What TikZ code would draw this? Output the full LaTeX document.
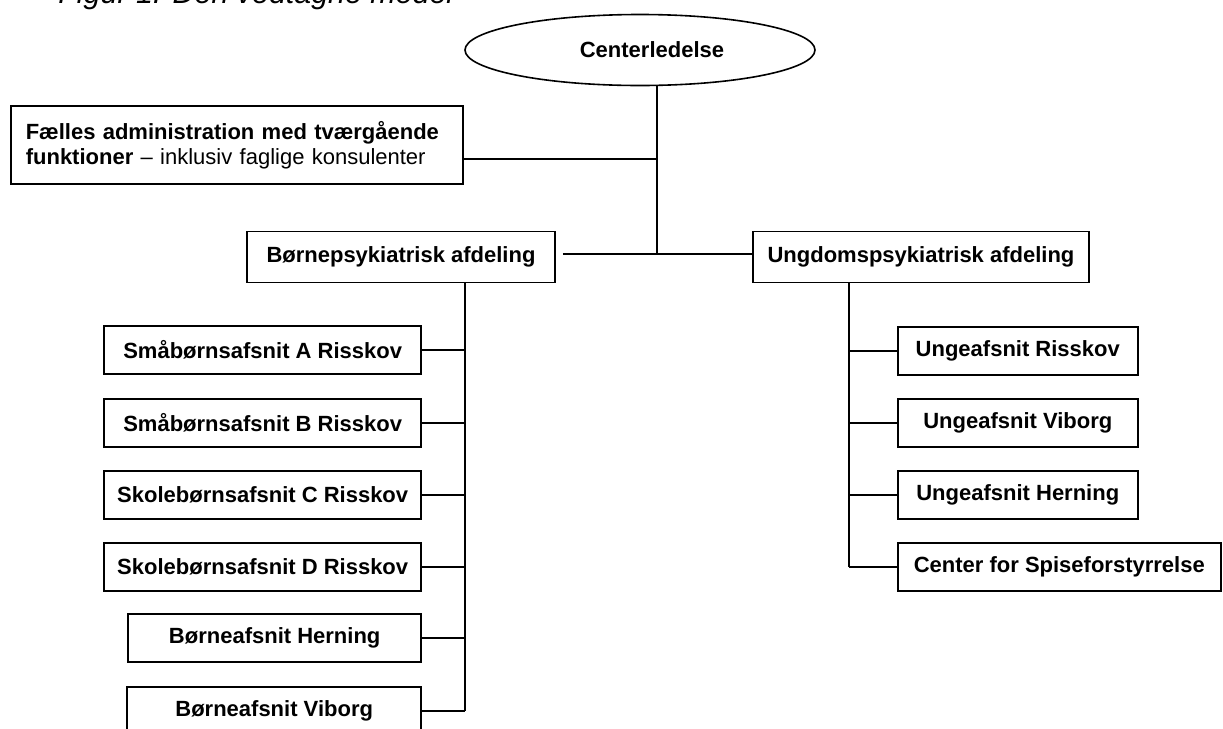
\documentclass[tikz,border=0pt]{standalone}
\usepackage{fontspec}
\setmainfont{Liberation Sans}
\usepackage{tikz}
\usetikzlibrary{shapes.geometric}

\tikzset{
  unit/.style={draw, line width=0.8pt, inner sep=0pt, minimum height=24pt,
    font=\bfseries\fontsize{11}{12.5}\selectfont},
  link/.style={line width=0.8pt}
}

\begin{document}
\begin{tikzpicture}[x=0.5pt, y=-0.5pt]
\useasboundingbox (0,0) rectangle (1223,729);
\clip (0,0) rectangle (1223,729);
% Caption, cut off at the top of the page
\node[anchor=base west, inner sep=0pt, font=\itshape\fontsize{15.2}{18}\selectfont] (caption) at (58,3) {Figur 1: Den vedtagne model};
% Management and administration
\node[draw, ellipse, line width=0.8pt, minimum width=175pt, minimum height=35.5pt, inner sep=0pt,
  font=\bfseries\fontsize{11}{12.5}\selectfont] (centre) at (640,50) {\hspace{12pt}Centerledelse};
\node[draw, line width=0.8pt, anchor=north west, minimum height=39pt, text width=211pt,
  inner xsep=7.5pt, inner ysep=0pt, align=left, font=\fontsize{11}{12.5}\selectfont] (admin) at (10,105)
  {\textbf{Fælles administration med tværgående}\\\textbf{funktioner} -- inklusiv faglige konsulenter};
% The two departments
\node[unit, minimum width=154pt, minimum height=25.5pt] (bp) at (401,257) {Børnepsykiatrisk afdeling};
\node[unit, minimum width=168pt, minimum height=25.5pt] (up) at (921,257) {Ungdomspsykiatrisk afdeling};
\coordinate (top) at (657,86);
\coordinate (hub) at (657,254);
\coordinate (adm) at (464,159);
\draw[link] (top) -- (hub);
\draw[link] (adm) -- (adm -| hub);
\draw[link] (bp.east |- hub) ++(7,0) -- (up.west |- hub);
% Sections under the children's department
\coordinate (ltop) at (465,283);
\coordinate (lend) at (465,711);
\draw[link] (ltop) -- (lend);
\foreach \n/\t/\w/\y in {sa/Småbørnsafsnit A Risskov/158.5pt/350,
    sb/Småbørnsafsnit B Risskov/158.5pt/423,
    sc/Skolebørnsafsnit C Risskov/158.5pt/495,
    sd/Skolebørnsafsnit D Risskov/158.5pt/567,
    bh/Børneafsnit Herning/146.5pt/638,
    bv/Børneafsnit Viborg/147pt/711}
{
  \node[unit, anchor=east, minimum width=\w] (\n) at (422,\y) {\t};
  \draw[link] (\n.east) -- (\n.east -| ltop);
}
% Sections under the youth department
\coordinate (rtop) at (849,283);
\coordinate (rend) at (849,567);
\draw[link] (rtop) -- (rend);
\foreach \n/\t/\w/\y in {ur/Ungeafsnit Risskov/120pt/351,
    uv/Ungeafsnit Viborg/120pt/423,
    uh/Ungeafsnit Herning/120pt/495,
    cs/Center for Spiseforstyrrelse/161.5pt/567}
{
  \node[unit, anchor=west, minimum width=\w] (\n) at (897,\y) {\t};
  \draw[link] (\n.west) -- (\n.west -| rtop);
}
\end{tikzpicture}
\end{document}
